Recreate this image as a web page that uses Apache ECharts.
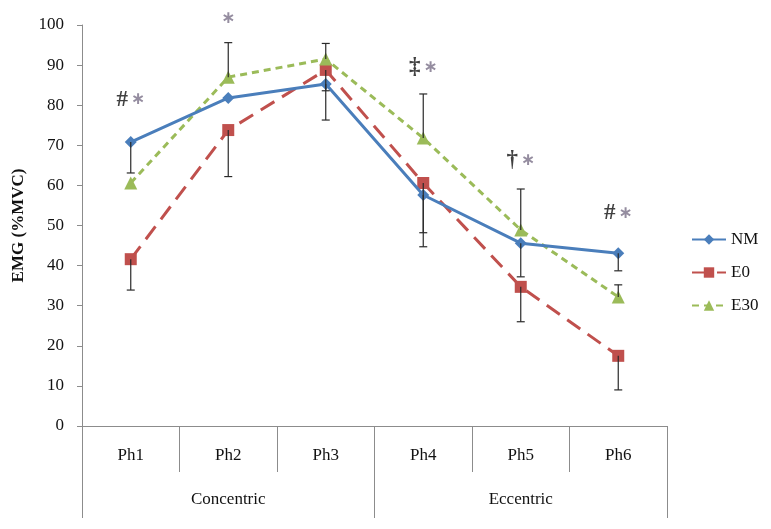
<!DOCTYPE html>
<html>
<head>
<meta charset="utf-8">
<script src="https://cdn.jsdelivr.net/npm/echarts@6/dist/echarts.min.js"></script>
<style>html,body{margin:0;padding:0;background:#fff;}#c{width:771px;height:529px;}</style>
</head>
<body>
<div id="c"></div>
<script>
const phases = ['Ph1','Ph2','Ph3','Ph4','Ph5','Ph6'];
const groups = ['Concentric','Eccentric'];
const yTicks = [0,10,20,30,40,50,60,70,80,90,100];
const nm  = [70.8, 81.8, 85.3, 57.6, 45.6, 43.1];
const e0  = [41.6, 73.8, 88.8, 60.6, 34.7, 17.5];
const e30 = [60.6, 87.0, 91.5, 71.8, 48.9, 32.2];
// one-sided error magnitudes (NM and E0 drawn downward, E30 upward)
const nmErrDown  = [7.7, 0, 9.0, 9.4, 8.4, 4.4];
const e0ErrDown  = [7.7, 11.6, 5.2, 15.9, 8.7, 8.5];
const e30ErrUp   = [0, 8.6, 3.9, 11.0, 10.2, 3.0];
// significance annotations: [phase index, height in %MVC, mark]
const annotPhase = [0, 1, 3, 4, 5];
const annotY     = [81.3, 101.7, 89.5, 66.3, 53];
const annotMark  = ['#', '', '‡', '†', '#'];

const FONT = '"Liberation Serif","Times New Roman",serif';

const errData = [];
for (let i = 0; i < phases.length; i++) {
  if (nmErrDown[i]) errData.push([i, nm[i], nm[i] - nmErrDown[i]]);
  if (e0ErrDown[i]) errData.push([i, e0[i], e0[i] - e0ErrDown[i]]);
  if (e30ErrUp[i]) errData.push([i, e30[i], e30[i] + e30ErrUp[i]]);
}
const annotData = annotPhase.map((p, k) => ({value: [p, annotY[k]], mark: annotMark[k]}));

const chart = echarts.init(document.getElementById('c'), null, {renderer: 'canvas'});
chart.setOption({
  animation: false,
  backgroundColor: '#fff',
  textStyle: {fontFamily: FONT},
  grid: {left: 82, right: 104, top: 25, bottom: 103},
  legend: {
    orient: 'vertical', left: 686, top: 226, itemWidth: 34, itemHeight: 13, itemGap: 16,
    textStyle: {fontFamily: FONT, fontSize: 17, color: '#111'},
    data: ['NM','E0','E30']
  },
  xAxis: [
    {
      type: 'category', data: phases, position: 'bottom', boundaryGap: true,
      axisLine: {lineStyle: {color: '#8c8c8c', width: 1}},
      axisTick: {show: true, length: 46, lineStyle: {color: '#8c8c8c'}},
      axisLabel: {margin: 21, fontFamily: FONT, fontSize: 17, color: '#111'}
    },
    {
      type: 'category', data: groups, position: 'bottom', offset: 0, boundaryGap: true,
      axisLine: {show: false},
      axisTick: {show: true, length: 92, lineStyle: {color: '#8c8c8c'}},
      axisLabel: {margin: 65, fontFamily: FONT, fontSize: 17, color: '#111'}
    }
  ],
  yAxis: {
    type: 'value', min: yTicks[0], max: yTicks[yTicks.length - 1], interval: 10,
    name: 'EMG (%MVC)', nameLocation: 'middle', nameGap: 52,
    nameTextStyle: {fontFamily: FONT, fontSize: 17, fontWeight: 'bold', color: '#111'},
    axisLine: {show: true, lineStyle: {color: '#8c8c8c'}},
    axisTick: {show: true, length: 5, lineStyle: {color: '#8c8c8c'}},
    axisLabel: {margin: 18, fontFamily: FONT, fontSize: 17, color: '#111'},
    splitLine: {show: false}
  },
  series: [
    {
      name: 'NM', type: 'line', data: nm, symbol: 'diamond', symbolSize: 12,
      lineStyle: {color: '#4a7ebb', width: 3}, itemStyle: {color: '#4a7ebb'}, z: 3
    },
    {
      name: 'E0', type: 'line', data: e0, symbol: 'rect', symbolSize: 12,
      lineStyle: {color: '#c0504d', width: 3, type: [16, 9]}, itemStyle: {color: '#c0504d'}, z: 2
    },
    {
      name: 'E30', type: 'line', data: e30, symbol: 'triangle', symbolSize: 13,
      lineStyle: {color: '#9bbb59', width: 3, type: [7, 5]}, itemStyle: {color: '#9bbb59'}, z: 2
    },
    {
      type: 'custom', name: 'err', data: errData, z: 4, silent: true,
      renderItem: function (params, api) {
        const a = api.coord([api.value(0), api.value(1)]);
        const b = api.coord([api.value(0), api.value(2)]);
        const st = {stroke: '#2a2a2a', lineWidth: 1.2};
        return {type: 'group', children: [
          {type: 'line', shape: {x1: a[0], y1: a[1], x2: b[0], y2: b[1]}, style: st},
          {type: 'line', shape: {x1: b[0] - 4, y1: b[1], x2: b[0] + 4, y2: b[1]}, style: st}
        ]};
      }
    },
    {
      type: 'scatter', name: 'annot', data: annotData, symbolSize: 0, clip: false, silent: true,
      label: {
        show: true, position: 'inside',
        formatter: function (p) { return (p.data.mark ? '{m|' + p.data.mark + '} ' : '') + '{s|∗}'; },
        rich: {
          m: {fontFamily: FONT, fontSize: 23, fontWeight: 'bold', color: '#111'},
          s: {fontFamily: '"DejaVu Sans",sans-serif', fontSize: 17, fontWeight: 'bold', color: '#7a7088'}
        }
      }
    }
  ]
});
</script>
</body>
</html>
